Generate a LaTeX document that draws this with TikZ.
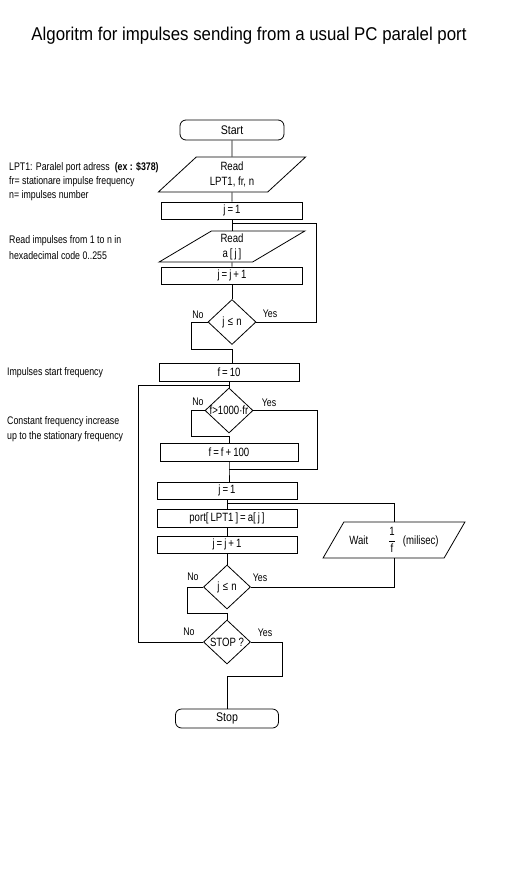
\documentclass[tikz,border=0pt]{standalone}
\usepackage{fontspec}
\setmainfont{Liberation Sans}[FakeStretch=0.8]
\newfontfamily\titlefont{Liberation Sans}[FakeStretch=0.91]
\newfontfamily\termfont{Liberation Sans}[FakeStretch=0.85]
\usetikzlibrary{shapes.geometric}
\tikzset{
  ln/.style={line width=0.8pt, draw=black},
  boxtext/.style={font=\fontsize{12}{15}\selectfont},
  proc/.style={draw, line width=0.8pt, rectangle, inner sep=1pt, boxtext},
  term/.style={draw, line width=0.8pt, rectangle, rounded corners=6pt, inner sep=1pt, font=\termfont\fontsize{12.5}{14}\selectfont},
  io/.style={draw, line width=0.8pt, trapezium, trapezium stretches=true, inner sep=0pt, align=center, boxtext},
  dec/.style={draw, line width=0.8pt, diamond, inner sep=0pt, minimum width=48pt, minimum height=45pt},
  lbl/.style={inner sep=0pt},
  note/.style={anchor=west, inner sep=0pt}
}
\begin{document}
\begin{tikzpicture}[x=1pt,y=-1pt,font=\fontsize{11}{12.5}\selectfont, every label/.style={font=\fontsize{12}{14}\selectfont, inner sep=0pt}]
\useasboundingbox (0,0) rectangle (531,886);
\fill[white] (0,0) rectangle (531,886);
\node[inner sep=0pt, font=\titlefont\fontsize{18.5}{20}\selectfont] (title) at (249,36) {Algoritm for impulses sending from a usual PC paralel port};

% left notes
\node[note] (t1) at (9,168) {LPT1: Paralel port adress\hspace{5pt}\textbf{(ex : \$378)}};
\node[note] (t2) at (9,182) {fr= stationare impulse frequency};
\node[note] (t3) at (9,196) {n= impulses number};
\node[note] (t4) at (9,241) {Read impulses from 1 to n in};
\node[note] (t5) at (9,256) {hexadecimal code 0..255};
\node[note] (t6) at (7,373) {Impulses start frequency};
\node[note] (t7) at (7,422) {Constant frequency increase};
\node[note] (t8) at (7,437) {up to the stationary frequency};

% top section
\node[term, minimum width=104pt, minimum height=20pt] (start) at (232,130) {Start};
\node[io, trapezium left angle=47, trapezium right angle=133, minimum width=148pt, minimum height=35pt] (rd1) at (232,174.5) {Read\\LPT1, fr, n};
\node[proc, minimum width=141pt, minimum height=17pt] (j1) at (232,210.5) {j\,=\,1};
\coordinate (J1) at (232,223);
\node[io, trapezium left angle=42, trapezium right angle=138, minimum width=146pt, minimum height=31pt] (rd2) at (232,246.5) {Read\\a\,[\,j\,]};
\node[proc, minimum width=141pt, minimum height=17pt] (jj1) at (232,275.5) {j\,=\,j\,+\,1};
\node[dec, label={center:j\;≤\;n}] (d1) at (232,322) {};

% middle section
\node[proc, minimum width=140pt, minimum height=18pt] (f10) at (229,372) {f\,=\,10};
\coordinate (J2) at (229,385);
\node[dec, label={center:f>1000·fr}] (d2) at (229,410.5) {};
\node[proc, minimum width=138pt, minimum height=18pt] (f100) at (229,452) {f\,=\,f\,+\,100};
\coordinate (J3) at (229,469);

% lower section
\node[proc, minimum width=140pt, minimum height=17pt] (j1b) at (227,490.5) {j\,=\,1};
\coordinate (J4) at (227,503);
\node[proc, minimum width=140pt, minimum height=18pt] (port) at (227,518) {port[\,LPT1\,]\,=\,a[\,j\,]};
\node[proc, minimum width=140pt, minimum height=17pt] (jj2) at (227,544.5) {j\,=\,j\,+\,1};
\node[io, trapezium left angle=53, trapezium right angle=127, minimum width=142pt, minimum height=36pt] (wait) at (394,540) {Wait\hspace{20pt}$\displaystyle\frac{\mbox{1}}{\mbox{f}}$\hspace{7pt}(milisec)};
\node[dec, minimum width=47pt, minimum height=44pt, label={center:j\;≤\;n}] (d3) at (227,587) {};
\node[dec, minimum width=47pt, minimum height=44pt, label={center:STOP ?}] (d4) at (227,642) {};
\node[term, minimum width=103pt, minimum height=19pt] (stop) at (227,718.5) {Stop};

% bend points
\coordinate (y1) at (316,223);
\coordinate (n1) at (191,349); \coordinate (n1r) at (232,349);
\coordinate (n2) at (191,436); \coordinate (n2r) at (229,436);
\coordinate (y2) at (317,469);
\coordinate (n3) at (187,613); \coordinate (n3r) at (227,613);
\coordinate (y4) at (282,676); \coordinate (y4l) at (227,676);
\coordinate (L2) at (138,385);

% connectors
\draw[ln] (start) -- (rd1);
\draw[ln] (rd1) -- (j1);
\draw[ln] (j1) -- (rd2);
\draw[ln] (rd2) -- (jj1);
\draw[ln] (jj1) -- (d1);
\draw[ln] (d1.east) -| (y1) -- (J1);
\draw[ln] (d1.west) -| (n1) -- (n1r) -- (n1r |- f10.north);
\draw[ln] (f10) -- (d2);
\draw[ln] (d4.west) -| (L2) -- (J2);
\draw[ln] (d2.west) -| (n2) -- (n2r) -- (f100);
\draw[ln] (d2.east) -| (y2) -- (J3);
\draw[ln] (f100.south) -- (J3) -- (J3 |- j1b.north);
\draw[ln] (j1b) -- (port);
\draw[ln] (J4) -| (wait.north);
\draw[ln] (port) -- (jj2);
\draw[ln] (jj2) -- (d3);
\draw[ln] (wait.south) |- (d3.east);
\draw[ln] (d3.west) -| (n3) -- (n3r) -- (d4);
\draw[ln] (d4.east) -| (y4) -- (y4l) -- (stop);

% branch labels
\node[lbl] (no1) at (198,315) {No};
\node[lbl] (yes1) at (270,314) {Yes};
\node[lbl] (no2) at (198,402) {No};
\node[lbl] (yes2) at (269,403) {Yes};
\node[lbl] (no3) at (193,577) {No};
\node[lbl] (yes3) at (260,578) {Yes};
\node[lbl] (no4) at (189,632) {No};
\node[lbl] (yes4) at (265,633) {Yes};
\end{tikzpicture}
\end{document}
